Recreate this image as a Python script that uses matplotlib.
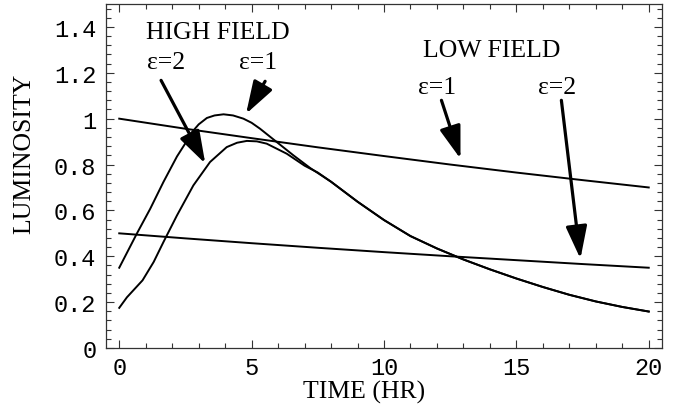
import matplotlib
matplotlib.use('Agg')
import matplotlib.pyplot as plt
import numpy as np
from matplotlib.ticker import MultipleLocator, FuncFormatter

# low field curves (sampled every 2.5 hr)
low_t = [0, 2.5, 5, 7.5, 10, 12.5, 15, 17.5, 20]
low_eps1 = [1.0, 0.956, 0.915, 0.875, 0.837, 0.80, 0.765, 0.732, 0.70]
low_eps2 = [0.5, 0.478, 0.457, 0.437, 0.418, 0.40, 0.383, 0.366, 0.35]

# high field curves, rising part
high1_t = [0, 0.67, 1.17, 1.67, 2.18, 2.5, 2.74, 3.0, 3.31, 3.6, 3.94, 4.3, 4.69,
           5.0, 5.32, 5.95, 6.58, 7.21]
high1_y = [0.35, 0.50, 0.607, 0.724, 0.835, 0.893, 0.94, 0.975, 1.003, 1.014, 1.019,
           1.014, 1.0, 0.982, 0.956, 0.898, 0.84, 0.785]
high2_t = [0, 0.29, 0.88, 1.3, 1.67, 2.18, 2.8, 3.43, 4.06, 4.45, 4.82, 5.2, 5.57,
           6.33, 7.0, 7.5]
high2_y = [0.175, 0.221, 0.295, 0.375, 0.462, 0.578, 0.709, 0.811, 0.876, 0.895,
           0.903, 0.901, 0.891, 0.847, 0.795, 0.765]
# shared decay tail
tail_t = [8, 9, 10, 11, 12, 13, 14, 15, 16, 17, 18, 19, 20]
tail_y = [0.725, 0.638, 0.558, 0.488, 0.434, 0.386, 0.343, 0.303, 0.266, 0.232,
          0.203, 0.179, 0.159]

serif = ['Liberation Serif', 'DejaVu Serif']
mono = ['Liberation Mono', 'DejaVu Sans Mono']

fig = plt.figure(figsize=(6.91, 4.06), dpi=100)
ax = fig.add_axes([0.1534, 0.1404, 0.8046, 0.8473])

lw = 1.4
ax.plot(low_t, low_eps1, color='black', lw=lw)
ax.plot(low_t, low_eps2, color='black', lw=lw)
ax.plot(high1_t + tail_t, high1_y + tail_y, color='black', lw=lw)
ax.plot(high2_t + tail_t, high2_y + tail_y, color='black', lw=lw)

ax.set_xlim(-0.5, 20.5)
ax.set_ylim(0, 1.5)
ax.xaxis.set_major_locator(MultipleLocator(5))
ax.xaxis.set_minor_locator(MultipleLocator(1))
ax.yaxis.set_major_locator(MultipleLocator(0.2))
ax.yaxis.set_minor_locator(MultipleLocator(0.04))
ax.yaxis.set_major_formatter(FuncFormatter(lambda v, p: f'{v:g}'))
ax.tick_params(which='both', direction='in', top=True, right=True, width=0.8,
               color='#333333')
ax.tick_params(which='major', length=6)
ax.tick_params(axis='x', which='major', pad=5.5)
ax.tick_params(axis='y', which='major', pad=7)
ax.tick_params(which='minor', length=3.5)
for lab in ax.get_xticklabels() + ax.get_yticklabels():
    lab.set_family(mono)
    lab.set_fontsize(17)
for sp in ax.spines.values():
    sp.set_linewidth(0.9)
    sp.set_color('#333333')

fig.text(0.5266, 0.034, 'TIME (HR)', family=serif, fontsize=18.5,
         ha='center', va='center')
fig.text(0.035, 0.62, 'LUMINOSITY', family=serif, fontsize=18.5,
         ha='center', va='center', rotation=90)

fs = 18.5
ax.text(3.74, 1.38, 'HIGH FIELD', family=serif, fontsize=fs, ha='center', va='center')
ax.text(1.77, 1.249, 'ε=2', family=serif, fontsize=fs, ha='center', va='center')
ax.text(5.25, 1.249, 'ε=1', family=serif, fontsize=fs, ha='center', va='center')
ax.text(14.06, 1.298, 'LOW FIELD', family=serif, fontsize=fs, ha='center', va='center')
ax.text(11.99, 1.138, 'ε=1', family=serif, fontsize=fs, ha='center', va='center')
ax.text(16.55, 1.138, 'ε=2', family=serif, fontsize=fs, ha='center', va='center')

arrows = [((1.58, 1.167), (3.25, 0.804)),
          ((5.51, 1.163), (4.79, 1.021)),
          ((12.17, 1.08), (12.89, 0.825)),
          ((16.7, 1.08), (17.42, 0.389))]
for start, tip in arrows:
    ax.annotate('', xy=tip, xytext=start,
                arrowprops=dict(arrowstyle='-|>,head_length=2.0,head_width=0.65',
                                mutation_scale=10, lw=2.3, color='black',
                                shrinkA=0, shrinkB=0))

fig.savefig('out.png', dpi=100)
